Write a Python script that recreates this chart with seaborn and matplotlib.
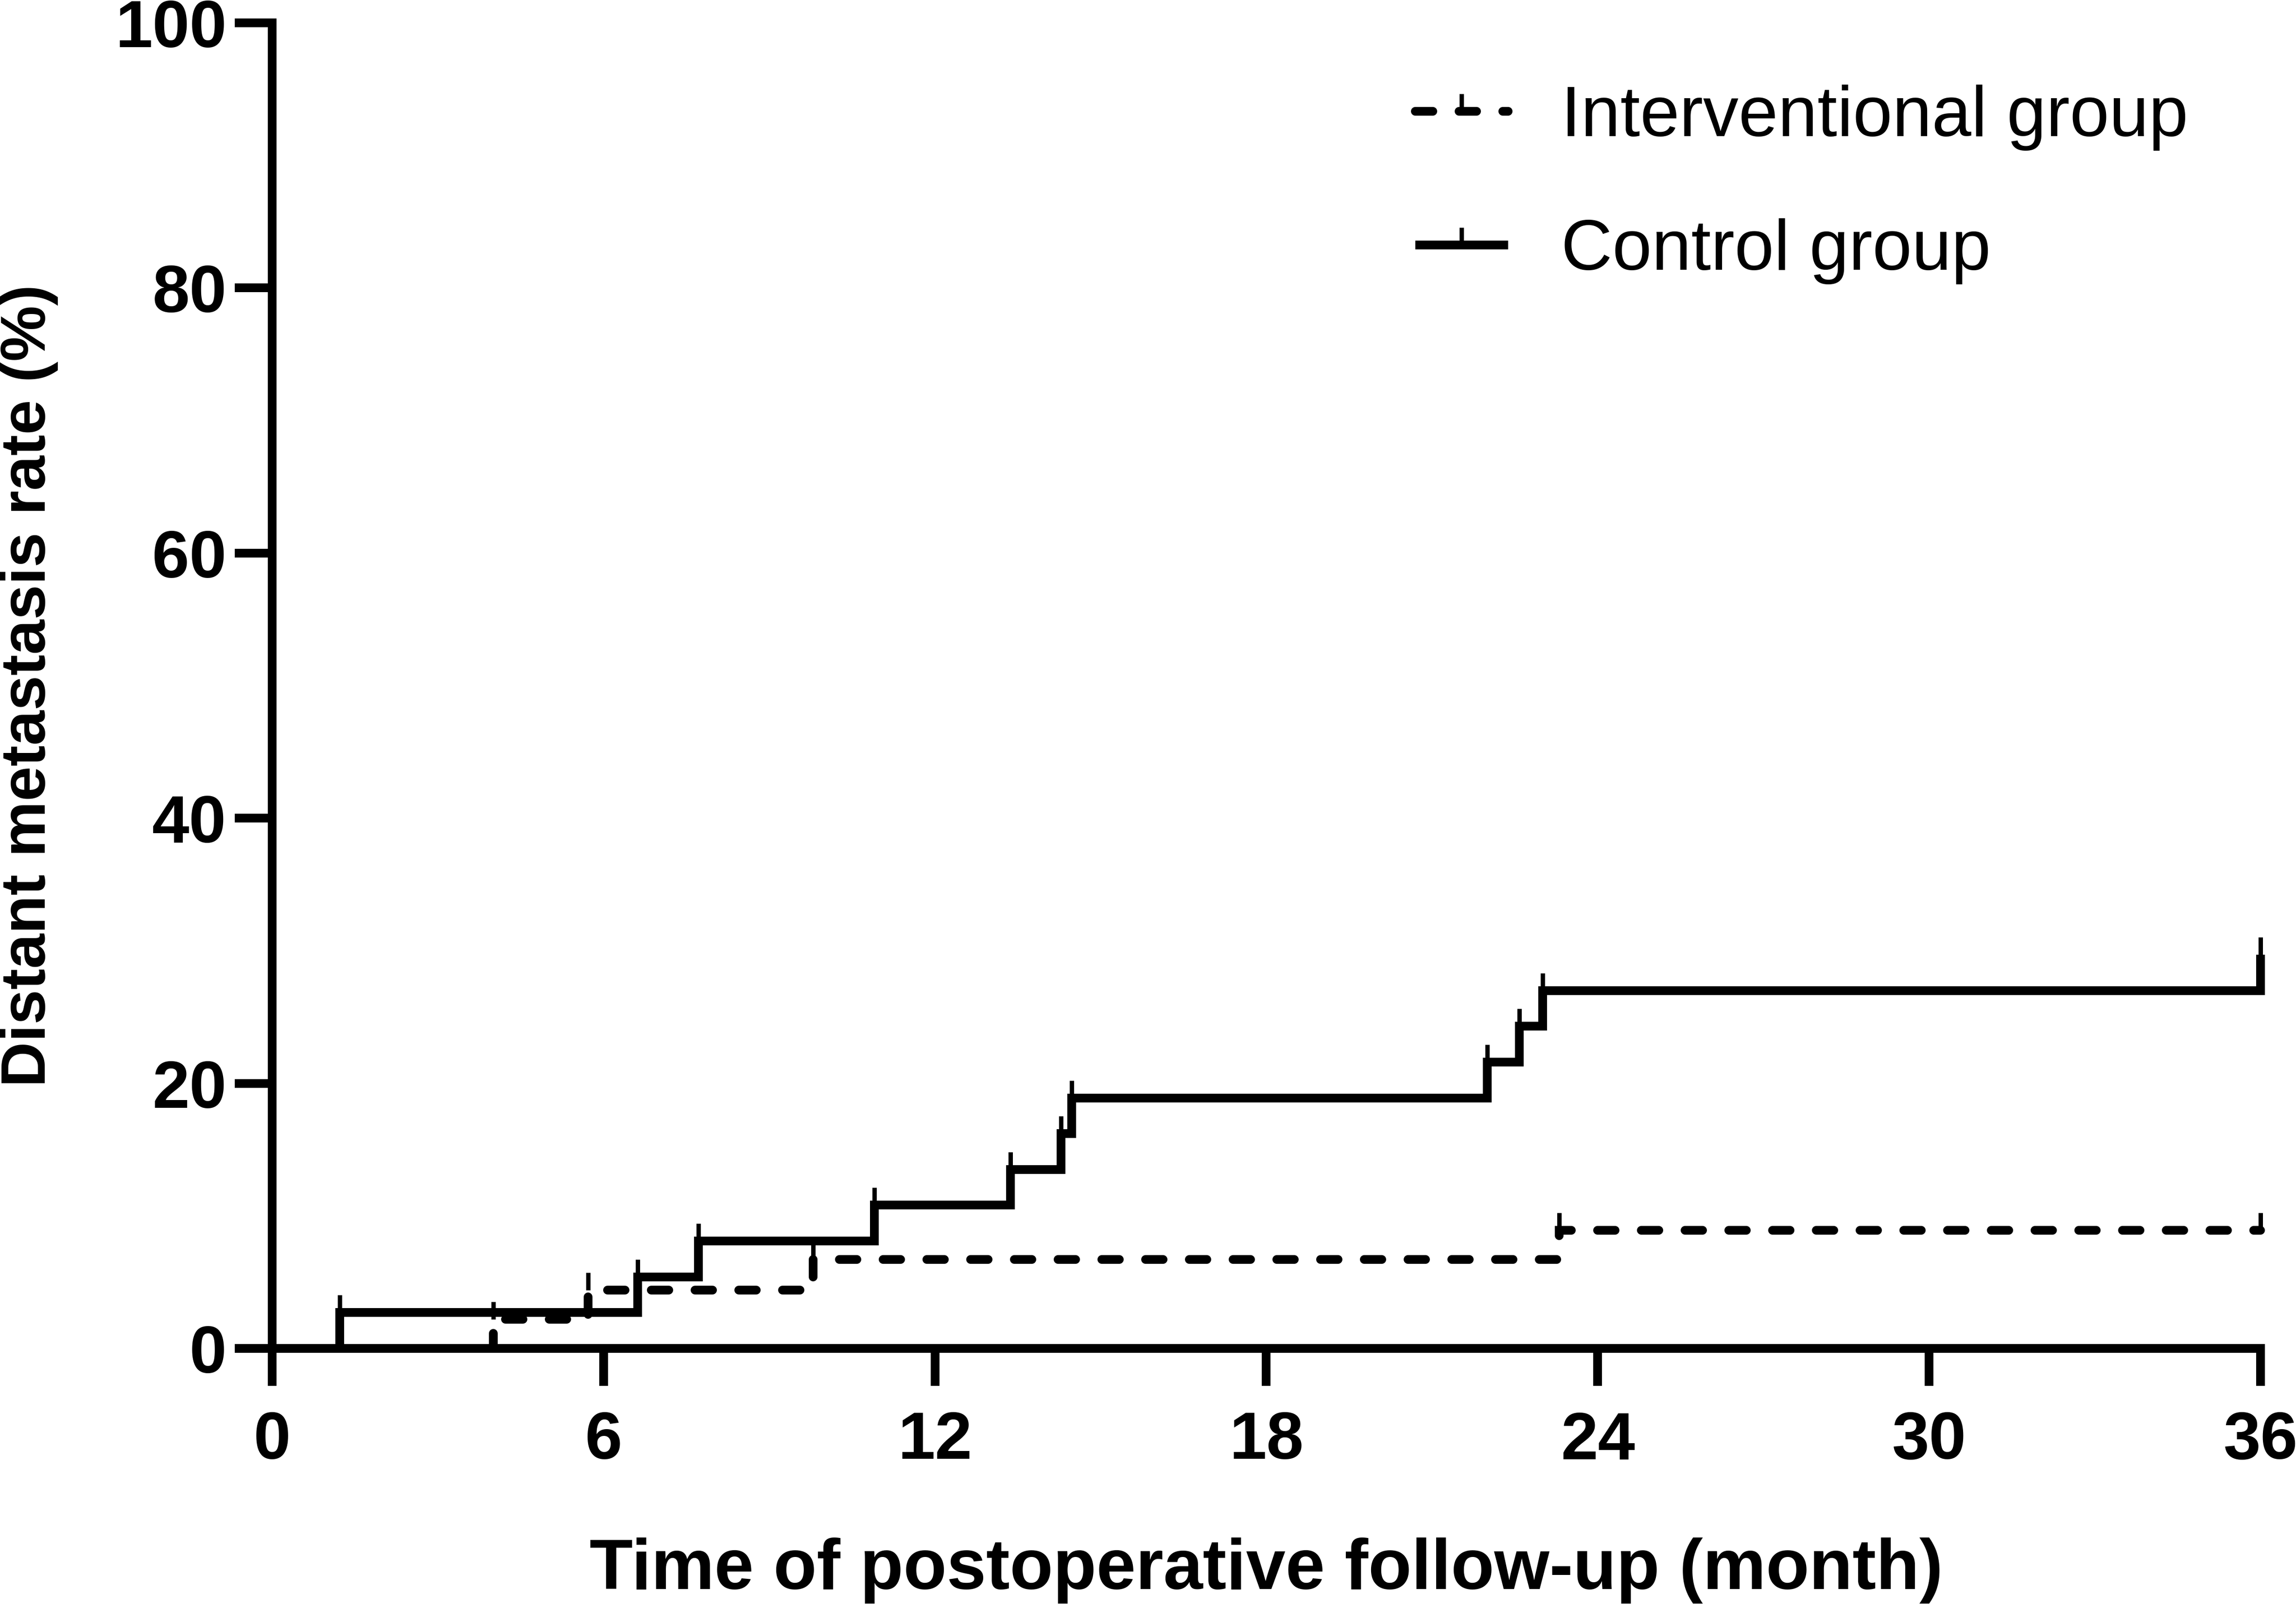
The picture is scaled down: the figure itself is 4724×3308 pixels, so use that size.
import seaborn as sns
import matplotlib.pyplot as plt
import pandas as pd
from matplotlib.lines import Line2D

# Cumulative distant metastasis rate (%)
control_months = [0, 1.22, 6.62, 7.72, 10.9, 13.37, 14.28, 14.48, 22.0, 22.58, 23.0, 36.0]
control_rate = [0, 2.7, 5.4, 8.1, 10.8, 13.5, 16.2, 18.9, 21.6, 24.3, 27.0, 29.7]

interv_months = [0, 4.0, 5.72, 9.79, 23.3, 36.0]
interv_rate = [0, 2.2, 4.4, 6.7, 8.9, 8.9]

x_ticks = [0, 6, 12, 18, 24, 30, 36]
y_ticks = [0, 20, 40, 60, 80, 100]

control_df = pd.DataFrame({"month": control_months, "rate": control_rate})
interv_df = pd.DataFrame({"month": interv_months, "rate": interv_rate})

sns.set_style("ticks")
plt.rcParams["font.family"] = ["Liberation Sans", "DejaVu Sans"]
plt.rcParams["axes.edgecolor"] = "black"
plt.rcParams["axes.labelcolor"] = "black"
plt.rcParams["text.color"] = "black"
plt.rcParams["xtick.color"] = "black"
plt.rcParams["ytick.color"] = "black"

LW = 4.32       # main line / axis width (pt)
TICK_LW = 2.16  # censor tick width
TICK_LEN = 8.6  # censor tick length

fig = plt.figure(figsize=(4724 / 300, 3308 / 300), dpi=300)
ax = fig.add_axes([0.11854, 0.16143, 0.86601, 0.82436])

common = dict(
    x="month", y="rate", estimator=None, legend=False, ax=ax,
    color="black", linewidth=LW, drawstyle="steps-post",
    marker=2, markersize=TICK_LEN, markeredgewidth=TICK_LW,
    markeredgecolor="black", markevery=slice(1, None), clip_on=False,
)

sns.lineplot(data=control_df, solid_joinstyle="miter", solid_capstyle="butt", **common)
sns.lineplot(data=interv_df, linestyle=(0, (2, 3)), dash_capstyle="round",
             dash_joinstyle="miter", **common)

ax.set_xlim(0, 36)
ax.set_ylim(0, 100)
ax.set_xticks(x_ticks)
ax.set_yticks(y_ticks)
sns.despine(ax=ax)
for side in ["left", "bottom"]:
    ax.spines[side].set_linewidth(LW)
ax.tick_params(axis="both", width=LW, length=18.5, labelsize=33)
ax.tick_params(axis="x", pad=12)
ax.tick_params(axis="y", pad=4)
plt.setp(ax.get_xticklabels() + ax.get_yticklabels(), fontweight="bold")

ax.set_xlabel("Time of postoperative follow-up (month)", fontsize=35,
              fontweight="bold", labelpad=32)
ax.set_ylabel("Distant metastasis rate (%)", fontsize=31,
              fontweight="bold", labelpad=28)

handles = [
    Line2D([], [], color="black", linewidth=LW, linestyle=(0, (2, 3)),
           dash_capstyle="round", marker=2, markersize=TICK_LEN,
           markeredgewidth=TICK_LW, markeredgecolor="black"),
    Line2D([], [], color="black", linewidth=LW, solid_capstyle="butt",
           marker=2, markersize=TICK_LEN, markeredgewidth=TICK_LW,
           markeredgecolor="black"),
]
ax.legend(handles, ["Interventional group", "Control group"],
          loc="upper left", bbox_to_anchor=(0.6164, 0.9474),
          bbox_transform=fig.transFigure, frameon=False, borderpad=0,
          borderaxespad=0, handlelength=1.31, handletextpad=0.75,
          labelspacing=0.95, fontsize=35, numpoints=1)

fig.savefig("out.png", dpi=300)
